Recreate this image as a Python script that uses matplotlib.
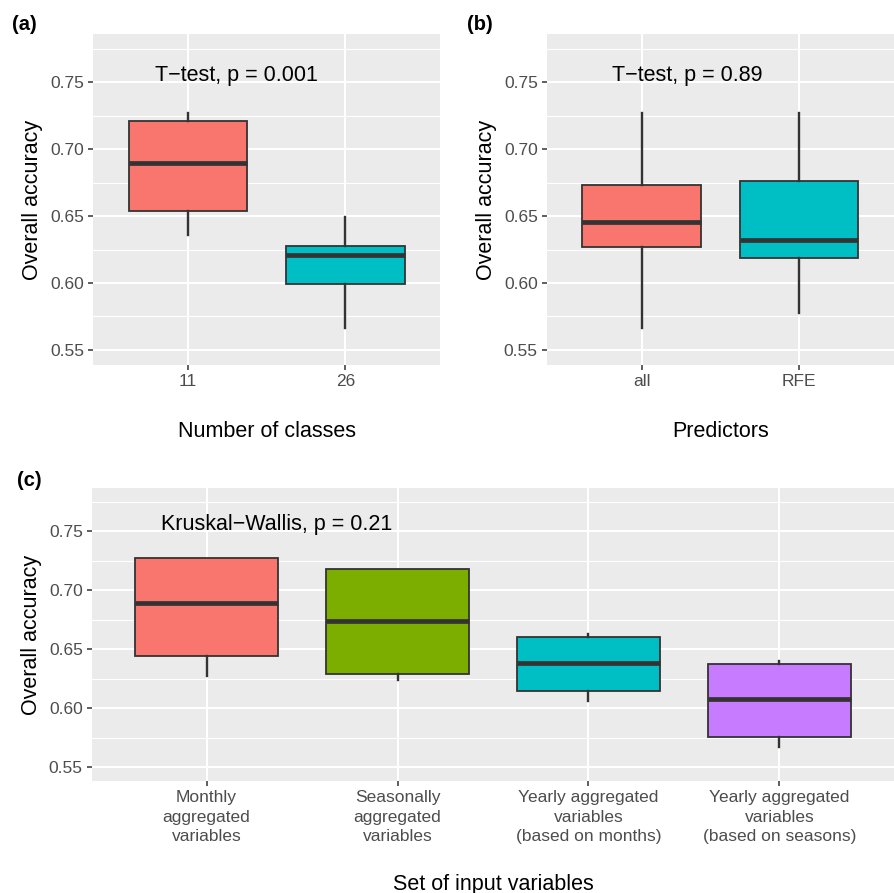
# Boxplots of overall accuracy, ggplot look
import matplotlib
matplotlib.use("Agg")
import matplotlib.pyplot as plt
from matplotlib.ticker import MultipleLocator

plt.rcParams["font.family"] = ["Liberation Sans", "DejaVu Sans"]

# panel (a): number of classes
a_labels = ["11", "26"]
a_lo = [0.636, 0.566]
a_q1 = [0.654, 0.599]
a_med = [0.6895, 0.621]
a_q3 = [0.721, 0.628]
a_hi = [0.727, 0.6495]

# panel (b): predictors
b_labels = ["all", "RFE"]
b_lo = [0.5665, 0.5775]
b_q1 = [0.627, 0.6187]
b_med = [0.6453, 0.632]
b_q3 = [0.6733, 0.6763]
b_hi = [0.727, 0.727]

# panel (c): set of input variables
c_labels = ["Monthly\naggregated\nvariables",
            "Seasonally\naggregated\nvariables",
            "Yearly aggregated\nvariables\n(based on months)",
            "Yearly aggregated\nvariables\n(based on seasons)"]
c_lo = [0.6275, 0.6236, 0.6064, 0.5671]
c_q1 = [0.6444, 0.629, 0.6149, 0.5755]
c_med = [0.6887, 0.6743, 0.6383, 0.6076]
c_q3 = [0.7272, 0.7177, 0.66, 0.6374]
c_hi = [0.7272, 0.718, 0.6625, 0.6397]

hue2 = ["#F8766D", "#00BFC4"]
hue4 = ["#F8766D", "#7CAE00", "#00BFC4", "#C77CFF"]


def drawPanel(ax, labels, lo, q1, med, q3, hi, colors, note, note_x, xlabel, xpad):
    stats = []
    for i in range(len(labels)):
        stats.append({"whislo": lo[i], "q1": q1[i], "med": med[i],
                      "q3": q3[i], "whishi": hi[i], "fliers": []})
    pos = list(range(1, len(labels) + 1))
    bp = ax.bxp(stats, positions=pos, widths=0.75, patch_artist=True,
                showcaps=False, showfliers=False,
                boxprops=dict(edgecolor="#333333", linewidth=1.3),
                whiskerprops=dict(color="#333333", linewidth=1.7),
                medianprops=dict(color="#333333", linewidth=3.4, solid_capstyle="butt"))
    for patch, col in zip(bp["boxes"], colors):
        patch.set_facecolor(col)

    ax.set_xlim(0.4, len(labels) + 0.6)
    ax.set_ylim(0.5387, 0.7862)
    ax.set_xticks(pos)
    ax.set_xticklabels(labels)
    for t in ax.get_xticklabels():
        t.set_linespacing(1.4)
    ax.yaxis.set_major_locator(MultipleLocator(0.05))
    ax.yaxis.set_minor_locator(MultipleLocator(0.025))
    ax.yaxis.set_major_formatter(matplotlib.ticker.FormatStrFormatter("%.2f"))

    # ggplot grey theme
    ax.set_facecolor("#EBEBEB")
    ax.set_axisbelow(True)
    ax.grid(which="major", color="white", linewidth=1.5)
    ax.grid(which="minor", axis="y", color="white", linewidth=0.8)
    for s in ax.spines.values():
        s.set_visible(False)
    ax.tick_params(which="major", length=3.6, width=1.1, color="#333333",
                   labelcolor="#4D4D4D", labelsize=12.5, pad=3)
    ax.tick_params(which="minor", length=0)

    ax.text(note_x, 0.7555, note, ha="center", va="center", fontsize=15.5, color="black")
    ax.set_ylabel("Overall accuracy", fontsize=15.5, labelpad=5)
    ax.set_xlabel(xlabel, fontsize=15.5, labelpad=xpad)


def main():
    W, H = 894, 893
    fig = plt.figure(figsize=(W / 100, H / 100), dpi=100)

    ax_a = fig.add_axes([93.3 / W, 1 - 365 / H, 346.7 / W, 331 / H])
    ax_b = fig.add_axes([547 / W, 1 - 365 / H, 346.7 / W, 331 / H])
    ax_c = fig.add_axes([92 / W, 1 - 780.7 / H, 802 / W, 292.4 / H])

    drawPanel(ax_a, a_labels, a_lo, a_q1, a_med, a_q3, a_hi, hue2,
              "T\u2212test, p = 0.001", 1.31, "Number of classes", 23)
    drawPanel(ax_b, b_labels, b_lo, b_q1, b_med, b_q3, b_hi, hue2,
              "T\u2212test, p = 0.89", 1.29, "Predictors", 23)
    drawPanel(ax_c, c_labels, c_lo, c_q1, c_med, c_q3, c_hi, hue4,
              "Kruskal\u2212Wallis, p = 0.21", 1.367, "Set of input variables", 21)

    # panel tags
    fig.text(12 / W, 1 - 24 / H, "(a)", fontsize=14.5, fontweight="bold", va="center")
    fig.text(467 / W, 1 - 24 / H, "(b)", fontsize=14.5, fontweight="bold", va="center")
    fig.text(17 / W, 1 - 480 / H, "(c)", fontsize=14.5, fontweight="bold", va="center")

    fig.savefig("out.png", dpi=100)


if __name__ == "__main__":
    main()
